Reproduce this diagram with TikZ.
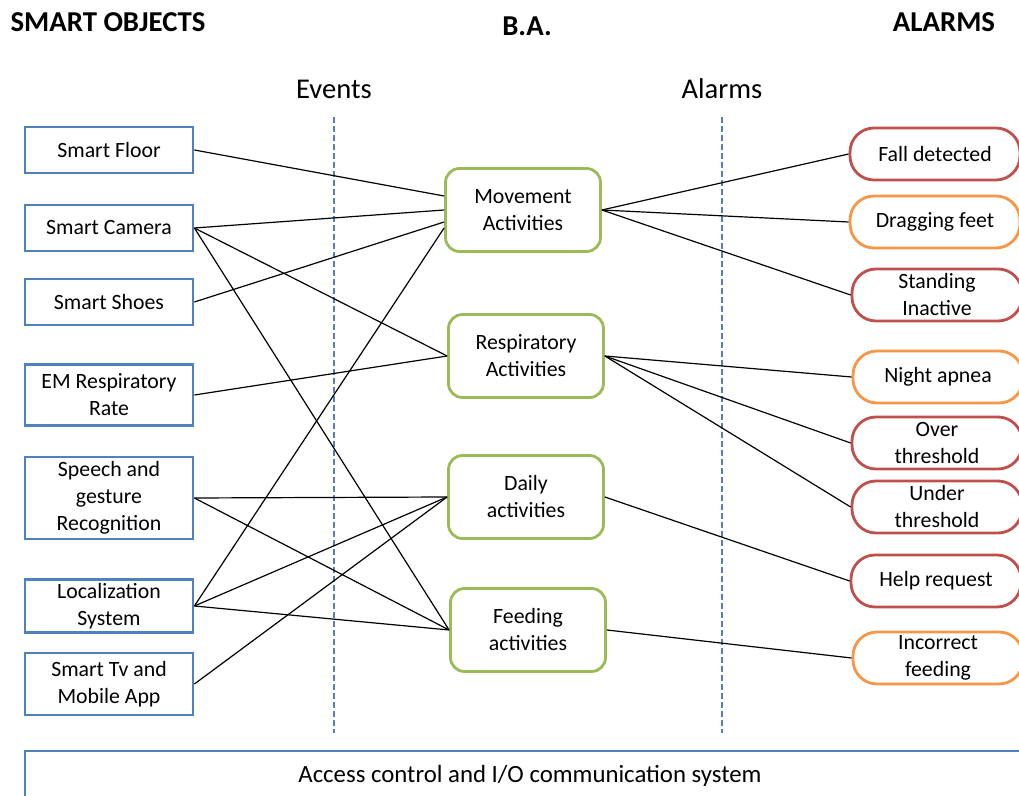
\documentclass[tikz,border=0pt]{standalone}
\usepackage{fontspec}
\setmainfont{Carlito}
\definecolor{objblue}{HTML}{4F81BD}
\definecolor{bagreen}{HTML}{9BBB59}
\definecolor{alarmred}{HTML}{C0504D}
\definecolor{alarmorange}{HTML}{F79646}
\tikzset{
  txt/.style={font=\fontsize{10.9}{13.5}\selectfont},
  obj/.style={txt,draw=objblue,line width=1.4pt,minimum width=84pt,minimum height=23pt,align=center,inner sep=0pt},
  ba/.style={txt,draw=bagreen,line width=1.4pt,rounded corners=7pt,minimum width=77.5pt,minimum height=41.5pt,align=center,inner sep=0pt},
  alarm/.style={txt,line width=1.4pt,rounded corners=12pt,minimum width=85pt,minimum height=26pt,align=center,inner sep=0pt},
  redalarm/.style={alarm,draw=alarmred},
  orangealarm/.style={alarm,draw=alarmorange},
  sep/.style={draw=objblue,line width=0.9pt,dash pattern=on 3pt off 1.5pt},
  title/.style={font=\bfseries\fontsize{14.4}{17}\selectfont},
  link/.style={line width=0.6pt}
}
\begin{document}
\begin{tikzpicture}[x=0.5pt,y=-0.5pt]
\useasboundingbox (0,0) rectangle (1019,796);
\node[title] (ttlobj) at (108,22) {SMART OBJECTS};
\node[title] (ttlba) at (527,26) {B.A.};
\node[title] (ttlalarm) at (944,22) {ALARMS};
\node[font=\fontsize{14.3}{17}\selectfont] (events) at (334,89) {Events};
\node[font=\fontsize{14.3}{17}\selectfont] (alarms) at (722,89) {Alarms};
\draw[sep] (334,117) -- (334,733);
\draw[sep] (722,117) -- (722,733);

\node[obj] (floor) at (109,150) {Smart Floor};
\node[obj] (camera) at (109,228) {Smart Camera};
\node[obj] (shoes) at (109,302) {Smart Shoes};
\node[obj,minimum height=30.5pt] (emrate) at (109,395) {EM Respiratory\\Rate};
\node[obj,minimum height=41pt] (speech) at (109,498) {Speech and\\gesture\\Recognition};
\node[obj,minimum height=26.5pt] (loc) at (109,606) {Localization\\System};
\node[obj,minimum height=31pt] (tv) at (109,684) {Smart Tv and\\Mobile App};

\node[ba] (move) at (523,210) {Movement\\Activities};
\node[ba] (resp) at (526,356) {Respiratory\\Activities};
\node[ba] (daily) at (526,497) {Daily\\activities};
\node[ba] (feed) at (528,630) {Feeding\\activities};

\node[redalarm] (fall) at (935,154) {Fall detected};
\node[orangealarm] (drag) at (935,222) {Dragging feet};
\node[redalarm] (stand) at (937,295) {Standing\\Inactive};
\node[orangealarm] (apnea) at (938,377) {Night apnea};
\node[redalarm] (over) at (937,443) {Over\\threshold};
\node[redalarm] (under) at (937,507) {Under\\threshold};
\node[redalarm] (help) at (936,581) {Help request};
\node[orangealarm] (incorrect) at (938,658) {Incorrect\\feeding};

\draw[link] (floor.east) -- ([yshift=7pt]move.west);
\draw[link] (camera.east) -- (move.west);
\draw[link] (shoes.east) -- ([yshift=-6pt]move.west);
\draw[link] (loc.east) -- ([yshift=-9pt]move.west);
\draw[link] (camera.east) -- (resp.west);
\draw[link] (emrate.east) -- (resp.west);
\draw[link] (camera.east) -- (feed.west);
\draw[link] (speech.east) -- (daily.west);
\draw[link] (speech.east) -- (feed.west);
\draw[link] (loc.east) -- (daily.west);
\draw[link] (loc.east) -- (feed.west);
\draw[link] (tv.east) -- (daily.west);

\draw[link] (move.east) -- (fall.west);
\draw[link] (move.east) -- (drag.west);
\draw[link] (move.east) -- (stand.west);
\draw[link] (resp.east) -- (apnea.west);
\draw[link] (resp.east) -- (over.west);
\draw[link] (resp.east) -- (under.west);
\draw[link] (daily.east) -- (help.west);
\draw[link] (feed.east) -- (incorrect.west);

\draw[draw=objblue,line width=1.4pt] (25,810) -- (25,751) -- (1030,751);
\node[font=\fontsize{12.4}{15}\selectfont] (access) at (530,776) {Access control and I/O communication system};
\end{tikzpicture}
\end{document}
